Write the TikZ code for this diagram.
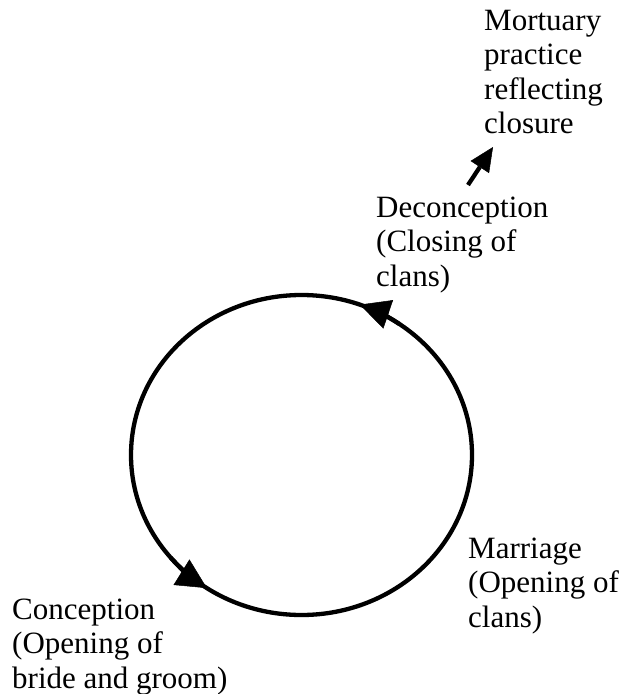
\documentclass[tikz,border=0pt]{standalone}
\usepackage{fontspec}
\setmainfont{Liberation Serif}
\usetikzlibrary{arrows.meta}
\begin{document}
\begin{tikzpicture}[x=1pt,y=-1pt,
  lbl/.style={anchor=base west,inner sep=0pt,align=left,
    font=\fontsize{31}{34.5}\selectfont},
  ring/.style={line width=4.3pt,black},
  ringtip/.style={line width=4.3pt,-{Triangle[length=30pt,width=30pt,line width=0.5pt]}},
  linkarrow/.style={line width=4.3pt,-{Triangle[length=24pt,width=22pt,line width=0.5pt]}}]
\useasboundingbox (0,0) rectangle (632,694);
\coordinate (c) at (301.5,455);
% cycle
\draw[ring] (c) ellipse [x radius=170.5, y radius=160];
\draw[ringtip] (c) ++(-55:170.5 and 160) arc[start angle=-55, end angle=-70, x radius=170.5, y radius=160];
\draw[ringtip] (c) ++(140:170.5 and 160) arc[start angle=140, end angle=123.7, x radius=170.5, y radius=160];
% labels (base anchor = baseline of the last line)
\node[lbl] (mort) at (484,133.5) {Mortuary\\practice\\reflecting\\closure};
\node[lbl] (decon) at (376,286) {Deconception\\(Closing of\\clans)};
\node[lbl] (marr) at (468,627) {Marriage\\(Opening of\\clans)};
\node[lbl] (concep) at (12,688) {Conception\\(Opening of\\bride and groom)};
% link
\coordinate (lfrom) at (468,185);
\coordinate (lto) at (493,147);
\draw[linkarrow] (lfrom) -- (lto);
\end{tikzpicture}
\end{document}
